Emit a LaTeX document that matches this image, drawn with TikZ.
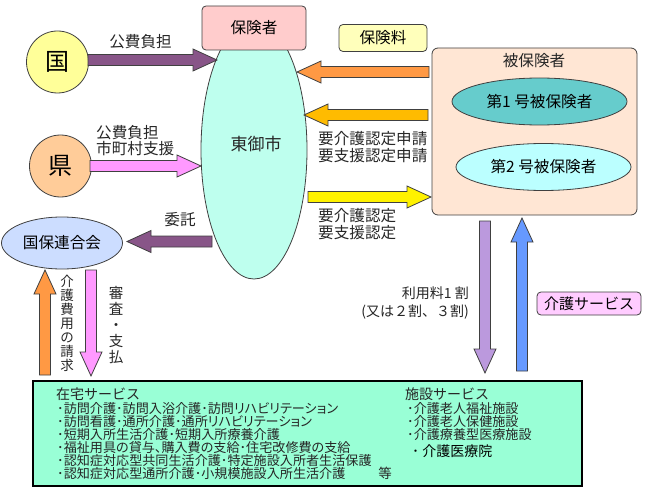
\documentclass[tikz,border=0pt]{standalone}
\usepackage{fontspec}
\setmainfont{Noto Sans CJK JP}
\newfontfamily\palfont[RawFeature=+palt]{Noto Sans CJK JP}
\usetikzlibrary{calc,shapes.geometric}
\definecolor{edgegray}{HTML}{404040}
\definecolor{inkgray}{HTML}{262626}
\definecolor{plumfill}{HTML}{885588}
\definecolor{pinkfill}{HTML}{FF99FF}
\definecolor{orangefill}{HTML}{FF9944}
\definecolor{goldfill}{HTML}{FFBB00}
\definecolor{lilacfill}{HTML}{BB99DD}
\definecolor{bluefill}{HTML}{6699FF}
\newcommand{\blockarrow}[3]{%
  \coordinate (hb) at ($(#2)!24pt!(#1)$);
  \draw[blockline,fill=#3] ($(#1)!5.5pt!90:(#2)$) -- ($(hb)!5.5pt!90:(#2)$) -- ($(hb)!11pt!90:(#2)$) -- (#2)
    -- ($(hb)!11pt!-90:(#2)$) -- ($(hb)!5.5pt!-90:(#2)$) -- ($(#1)!5.5pt!-90:(#2)$) -- cycle;
}
\tikzset{
  blockline/.style={draw=edgegray,line width=0.8pt,line join=miter},
  shapeline/.style={draw=edgegray,line width=0.8pt,inner sep=0pt},
  roundbox/.style={shapeline,rectangle,rounded corners=4pt},
  oval/.style={shapeline,ellipse},
  txt/.style={text=inkgray,inner sep=0pt,font=\fontsize{15.6}{16.5}\selectfont},
  smalltxt/.style={text=inkgray,inner sep=0pt,align=left,anchor=north west,font=\palfont\fontsize{13.1}{13.1}\selectfont}
}
\begin{document}
\begin{tikzpicture}[x=1pt,y=-1pt]
\useasboundingbox (0,0) rectangle (645,492);
% left side
\node (kuni) [shapeline,circle,fill={rgb,255:red,255;green,255;blue,153},minimum size=62pt,font=\fontsize{24}{24}\selectfont] at (57.5,62) {国};
\node (ken) [shapeline,circle,fill={rgb,255:red,255;green,204;blue,153},minimum size=62pt,font=\fontsize{24}{24}\selectfont] at (60.5,166) {県};
\node (kokuho) [oval,fill={rgb,255:red,204;green,221;blue,255},minimum width=121pt,minimum height=52pt,font=\fontsize{15.6}{15.6}\selectfont] at (62,243) {国保連合会};
% middle
\node (shi) [oval,fill={rgb,255:red,190;green,255;blue,238},minimum width=106pt,minimum height=258pt] at (254,150) {};
\node (shitxt) [txt,font=\fontsize{17}{17}\selectfont] at (256,144) {東御市};
\node (hokensha) [roundbox,fill={rgb,255:red,255;green,204;blue,204},minimum width=104pt,minimum height=44pt,font=\fontsize{15.6}{15.6}\selectfont] at (254,28) {保険者};
\node (ryo) [roundbox,fill={rgb,255:red,255;green,255;blue,187},minimum width=88pt,minimum height=27pt,font=\fontsize{15.6}{15.6}\selectfont] at (383,38) {保険料};
% right side
\node (hi) [roundbox,fill={rgb,255:red,255;green,230;blue,212},rounded corners=6pt,minimum width=205pt,minimum height=167pt] at (534.5,131.5) {};
\node (hitxt) [txt] at (534,61) {被保険者};
\node (dai1) [oval,fill={rgb,255:red,102;green,204;blue,204},minimum width=175pt,minimum height=47pt,font=\fontsize{15.6}{15.6}\selectfont] at (539.5,101.5) {第1 号被保険者};
\node (dai2) [oval,fill={rgb,255:red,187;green,255;blue,255},minimum width=175pt,minimum height=47pt,font=\fontsize{15.6}{15.6}\selectfont] at (543.5,167) {第2 号被保険者};
\node (kaigo) [roundbox,fill={rgb,255:red,255;green,204;blue,255},minimum width=104pt,minimum height=23pt,font=\fontsize{15}{15}\selectfont] at (589,303.5) {介護サービス};
% bottom box
\node (service) [draw=black,line width=1.2pt,inner sep=0pt,fill={rgb,255:red,153;green,255;blue,214},minimum width=549pt,minimum height=105pt] at (307.5,433.5) {};
\node (zaitaku) [txt,anchor=west,font=\fontsize{14}{14}\selectfont] at (56,394) {在宅サービス};
\node (zaitakulist) [smalltxt] at (57,402) {･訪問介護･訪問入浴介護･訪問リハビリテーション\\･訪問看護･通所介護･通所リハビリテーション\\･短期入所生活介護･短期入所療養介護\\･福祉用具の貸与、購入費の支給･住宅改修費の支給\\･認知症対応型共同生活介護･特定施設入所者生活保護\\･認知症対応型通所介護･小規模施設入所生活介護};
\node (nado) [txt,font=\fontsize{13.5}{13.5}\selectfont] at (385,473) {等};
\node (shisetsu) [txt,anchor=west,font=\fontsize{14}{14}\selectfont] at (405,394) {施設サービス};
\node (shisetsulist) [smalltxt] at (407,402) {･介護老人福祉施設\\･介護老人保健施設\\･介護療養型医療施設};
\node (iryoin) [txt,anchor=west,text=black,font=\fontsize{14}{14}\selectfont] at (412,451) {･ 介護医療院};
% labels
\node (futan) [txt] at (140.5,42) {公費負担};
\node (futan2) [txt,align=left,anchor=west] at (96,140.5) {公費負担\\市町村支援};
\node (itaku) [txt] at (180,220) {委託};
\node (shinsei) [txt,align=left,anchor=west] at (318,147) {要介護認定申請\\要支援認定申請};
\node (nintei) [txt,align=left,anchor=west] at (318,224) {要介護認定\\要支援認定};
\node (riyo) [txt,align=right,anchor=east,font=\fontsize{14}{18}\selectfont] at (469,303) {利用料1 割\\(又は２割、３割)};
\node (seikyu) [txt,align=center,font=\fontsize{13.5}{13.9}\selectfont] at (67,323.5) {介\\護\\費\\用\\の\\請\\求};
\node (shiharai) [txt,align=center,font=\fontsize{14.5}{15.8}\selectfont] at (116,325) {審\\査\\・\\支\\払};
% arrows
\coordinate (a1) at (88,60);    \coordinate (b1) at (217,60);
\coordinate (a2) at (90,166);   \coordinate (b2) at (201,166);
\coordinate (a3) at (212,241.5);\coordinate (b3) at (127,241.5);
\coordinate (a4) at (429,72);   \coordinate (b4) at (297,72);
\coordinate (a5) at (428,115);  \coordinate (b5) at (304,115);
\coordinate (a6) at (308,197);  \coordinate (b6) at (431,197);
\coordinate (a7) at (45,375);   \coordinate (b7) at (45,270);
\coordinate (a8) at (91,270);   \coordinate (b8) at (91,376);
\coordinate (a9) at (485,221);  \coordinate (b9) at (485,373);
\coordinate (a10) at (522,371); \coordinate (b10) at (522,218);
\blockarrow{a1}{b1}{plumfill}
\blockarrow{a2}{b2}{pinkfill}
\blockarrow{a3}{b3}{plumfill}
\blockarrow{a4}{b4}{orangefill}
\blockarrow{a5}{b5}{goldfill}
\blockarrow{a6}{b6}{yellow}
\blockarrow{a7}{b7}{orangefill}
\blockarrow{a8}{b8}{pinkfill}
\blockarrow{a9}{b9}{lilacfill}
\blockarrow{a10}{b10}{bluefill}
\end{tikzpicture}
\end{document}
